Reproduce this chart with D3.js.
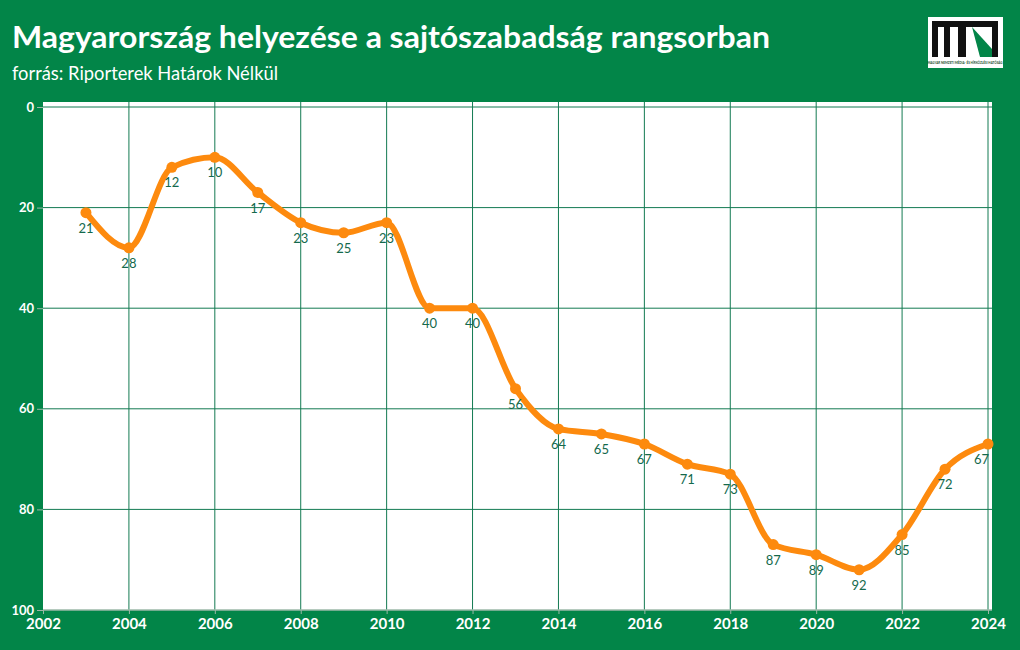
<!DOCTYPE html>
<html>
  <head>
    <meta charset="utf-8">
    <title>Magyarország helyezése a sajtószabadság rangsorban</title>
    <script src="https://cdn.jsdelivr.net/npm/d3@7/dist/d3.min.js"></script>
    <style>
      body { margin: 0; background: #028548; }
      svg { display: block; font-family: "Source Sans Pro", "Lato", "Noto Sans", sans-serif; }
    </style>
  </head>
  <body>
    <script>
      // data
      var years = [2003, 2004, 2005, 2006, 2007, 2008, 2009, 2010, 2011, 2012, 2013,
                   2014, 2015, 2016, 2017, 2018, 2019, 2020, 2021, 2022, 2023, 2024];
      var ranks = [21, 28, 12, 10, 17, 23, 25, 23, 40, 40, 56,
                   64, 65, 67, 71, 73, 87, 89, 92, 85, 72, 67];
      var xTicks = [2002, 2004, 2006, 2008, 2010, 2012, 2014, 2016, 2018, 2020, 2022, 2024];
      var yTicks = [0, 20, 40, 60, 80, 100];

      var w = 1020, h = 650;
      var bg = "#028548", grid = "#137a52", orange = "#fd8a0e", labelCol = "#14694c";

      var svg = d3.select("body").append("svg")
        .attr("width", w).attr("height", h);

      svg.append("rect").attr("width", w).attr("height", h).attr("fill", bg);

      // title
      svg.append("text")
        .attr("x", 12).attr("y", 48)
        .attr("fill", "#fff")
        .attr("font-size", 30).attr("font-weight", "bold")
        .attr("textLength", 758).attr("lengthAdjust", "spacingAndGlyphs")
        .text("Magyarország helyezése a sajtószabadság rangsorban");
      svg.append("text")
        .attr("x", 12).attr("y", 80)
        .attr("fill", "#fff")
        .attr("font-size", 19)
        .attr("textLength", 266).attr("lengthAdjust", "spacingAndGlyphs")
        .text("forrás: Riporterek Határok Nélkül");

      // logo
      var logo = svg.append("g").attr("transform", "translate(928,17)");
      logo.append("rect").attr("width", 75).attr("height", 51).attr("fill", "#fff");
      logo.append("path").attr("fill", "#111")
        .attr("d", "M4,4 H70 V40 H64 V10 H38 V40 H30 V10 H22 V40 H16 V10 H10 V40 H4 Z");
      logo.append("path").attr("fill", "#028548")
        .attr("d", "M44,10 L64,32 L64,40 L52,40 Z");
      logo.append("text").attr("x", 37).attr("y", 46.5).attr("text-anchor", "middle")
        .attr("font-size", 3).attr("fill", "#1c4d2e").attr("font-weight", "bold")
        .text("MAGYAR NEMZETI MÉDIA- ÉS HÍRKÖZLÉSI HATÓSÁG");

      // scales
      var x = d3.scaleLinear().domain([2002, 2024]).range([43, 988]);
      var y = d3.scaleLinear().domain([0, 100]).range([107, 610]);

      // plot background
      svg.append("rect")
        .attr("x", 43).attr("y", 102)
        .attr("width", 992 - 43).attr("height", 610 - 102)
        .attr("fill", "#fff");

      // gridlines
      svg.append("g").selectAll("line").data(xTicks.slice(1)).join("line")
        .attr("x1", d => x(d)).attr("x2", d => x(d))
        .attr("y1", 102).attr("y2", 610)
        .attr("stroke", grid).attr("stroke-width", 1);
      svg.append("g").selectAll("line").data(yTicks.slice(0, -1)).join("line")
        .attr("x1", 43).attr("x2", 992)
        .attr("y1", d => y(d)).attr("y2", d => y(d))
        .attr("stroke", grid).attr("stroke-width", 1);

      // y axis
      var yAxis = svg.append("g")
        .attr("transform", "translate(43,0)")
        .call(d3.axisLeft(y).tickValues(yTicks).tickSize(6).tickPadding(3));
      yAxis.select(".domain").remove();
      yAxis.selectAll(".tick line").attr("stroke", "#9db8a8");
      yAxis.selectAll("text").attr("fill", "#fff").attr("font-size", 13).attr("font-weight", "bold")
        .attr("font-family", "Source Sans Pro, Lato, Noto Sans, sans-serif");

      // x axis
      var xAxis = svg.append("g")
        .attr("transform", "translate(0,610)")
        .call(d3.axisBottom(x).tickValues(xTicks).tickFormat(d3.format("d")).tickSize(4).tickPadding(4));
      xAxis.select(".domain").attr("stroke", "#9db8a8").attr("stroke-width", 1.5)
        .attr("d", "M43,0H992");
      xAxis.selectAll(".tick line").attr("stroke", "#9db8a8");
      xAxis.selectAll("text").attr("fill", "#fff").attr("font-size", 15).attr("font-weight", "bold")
        .attr("font-family", "Source Sans Pro, Lato, Noto Sans, sans-serif");

      var data = years.map((yr, i) => ({ year: yr, rank: ranks[i] }));

      // line
      var line = d3.line()
        .x(d => x(d.year)).y(d => y(d.rank))
        .curve(d3.curveMonotoneX);

      svg.append("path").datum(data)
        .attr("d", line)
        .attr("fill", "none")
        .attr("stroke", orange)
        .attr("stroke-width", 6)
        .attr("stroke-linejoin", "round")
        .attr("stroke-linecap", "round");

      svg.append("g").selectAll("circle").data(data).join("circle")
        .attr("cx", d => x(d.year)).attr("cy", d => y(d.rank))
        .attr("r", 5.5).attr("fill", orange);

      // value labels (last one kept inside the plot)
      var lastYear = years[years.length - 1];
      svg.append("g").selectAll("text").data(data).join("text")
        .attr("x", d => d.year === lastYear ? x(d.year) + 1 : x(d.year))
        .attr("y", d => y(d.rank) + 20)
        .attr("text-anchor", d => d.year === lastYear ? "end" : "middle")
        .attr("fill", labelCol)
        .attr("font-size", 13)
        .text(d => d.rank);
    </script>
  </body>
</html>
